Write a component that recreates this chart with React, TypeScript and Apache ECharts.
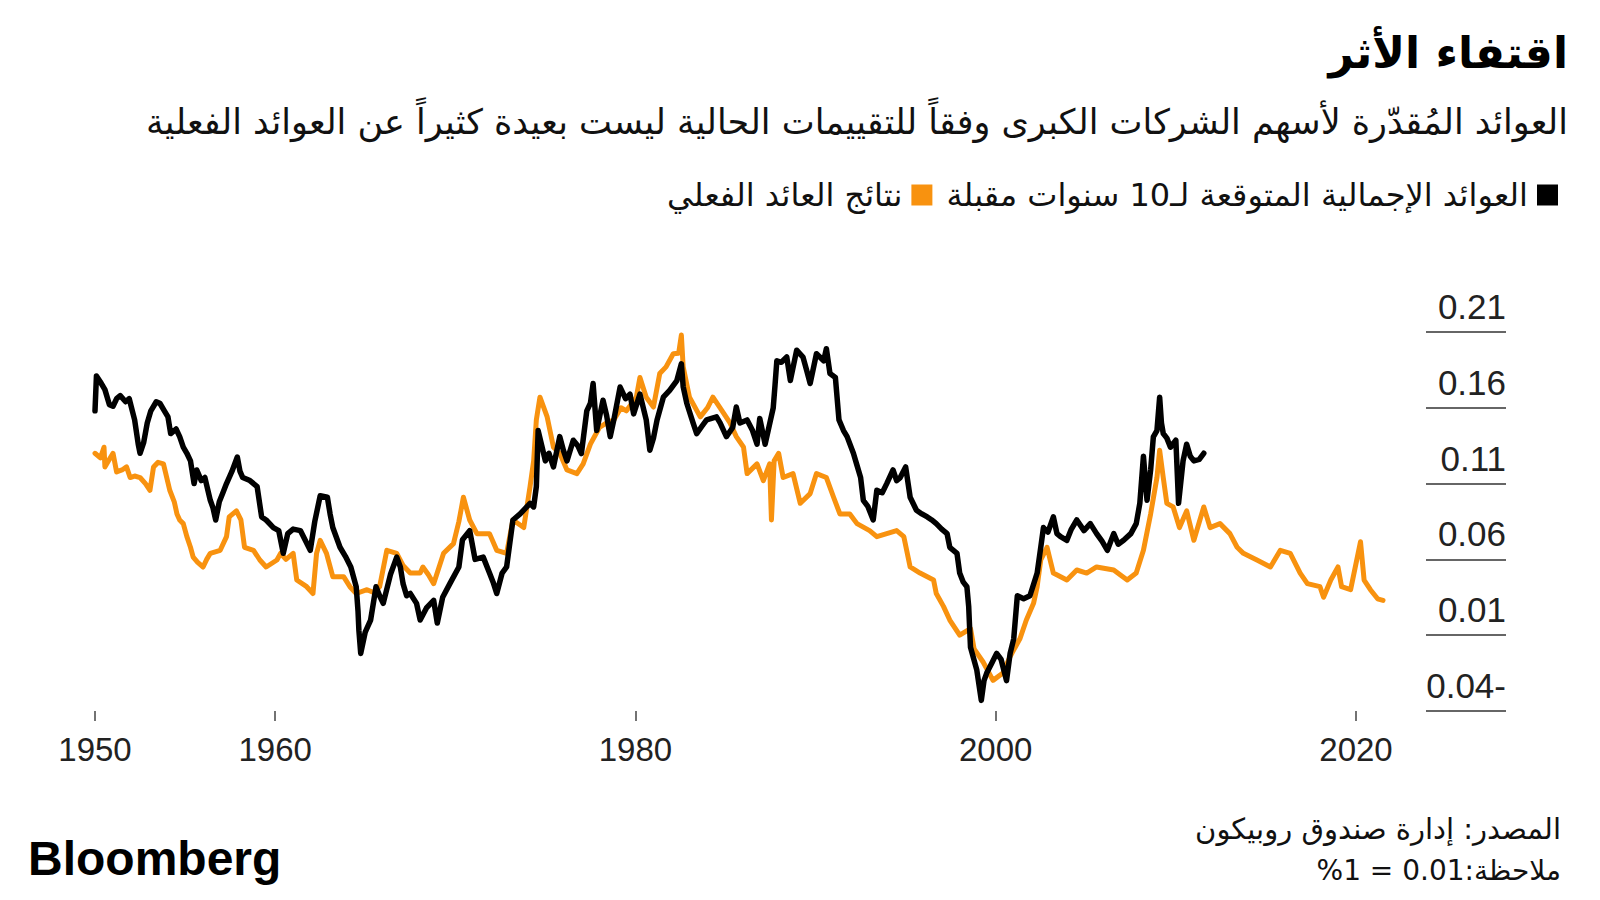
import React, { useEffect, useRef } from "react";
import * as echarts from "echarts";

// ---------- Data ----------
const expectedYears = [
  1950.0, 1950.08, 1950.3, 1950.55, 1950.8, 1951.0, 1951.2, 1951.4, 1951.7, 1951.9,
  1952.2, 1952.4, 1952.5, 1952.7, 1952.9, 1953.1, 1953.4, 1953.6, 1953.85, 1954.05,
  1954.2, 1954.5, 1954.7, 1954.9, 1955.1, 1955.3, 1955.5, 1955.65, 1955.9, 1956.1,
  1956.4, 1956.55, 1956.7, 1956.9, 1957.1, 1957.3, 1957.6, 1957.9, 1958.05, 1958.2,
  1958.6, 1959.0, 1959.25, 1959.5, 1959.9, 1960.2, 1960.45, 1960.7, 1961.0, 1961.4,
  1961.7, 1961.95, 1962.2, 1962.5, 1962.9, 1963.05, 1963.2, 1963.6, 1963.9, 1964.2,
  1964.5, 1964.6, 1964.65, 1964.75, 1965.0, 1965.3, 1965.6, 1965.8, 1966.0, 1966.4,
  1966.75, 1966.95, 1967.1, 1967.3, 1967.5, 1967.85, 1968.05, 1968.4, 1968.8, 1969.0,
  1969.3, 1969.7, 1970.2, 1970.4, 1970.8, 1971.1, 1971.55, 1971.9, 1972.1, 1972.3,
  1972.6, 1972.85, 1973.2, 1973.6, 1974.15, 1974.35, 1974.5, 1974.6, 1974.8, 1975.0,
  1975.2, 1975.45, 1975.8, 1976.0, 1976.2, 1976.55, 1976.8, 1977.0, 1977.3, 1977.5,
  1977.65, 1977.85, 1978.2, 1978.4, 1978.6, 1978.8, 1979.15, 1979.45, 1979.7, 1979.9,
  1980.25, 1980.6, 1980.8, 1981.0, 1981.2, 1981.55, 1981.9, 1982.3, 1982.55, 1982.65,
  1982.85, 1983.2, 1983.4, 1983.7, 1983.95, 1984.5, 1984.7, 1985.05, 1985.4, 1985.6,
  1985.8, 1986.2, 1986.5, 1986.75, 1986.9, 1987.2, 1987.5, 1987.65, 1987.75, 1987.85,
  1988.1, 1988.4, 1988.6, 1988.95, 1989.3, 1989.5, 1989.7, 1990.05, 1990.45, 1990.6,
  1990.8, 1991.1, 1991.3, 1991.55, 1991.75, 1992.1, 1992.3, 1992.5, 1992.65, 1992.9,
  1993.2, 1993.4, 1993.7, 1993.95, 1994.3, 1994.5, 1994.7, 1995.0, 1995.25, 1995.6,
  1995.9, 1996.2, 1996.45, 1996.7, 1997.0, 1997.3, 1997.45, 1997.85, 1998.0, 1998.2,
  1998.4, 1998.5, 1998.55, 1998.6, 1998.95, 1999.2, 1999.35, 1999.5, 1999.8, 2000.05,
  2000.3, 2000.6, 2000.8, 2001.0, 2001.2, 2001.55, 2001.9, 2002.3, 2002.5, 2002.65,
  2002.9, 2003.2, 2003.4, 2003.6, 2003.95, 2004.2, 2004.5, 2004.9, 2005.25, 2005.6,
  2005.9, 2006.2, 2006.55, 2006.8, 2007.1, 2007.5, 2007.8, 2008.0, 2008.2, 2008.4,
  2008.6, 2008.75, 2008.95, 2009.1, 2009.2, 2009.3, 2009.5, 2009.7, 2010.0, 2010.15,
  2010.4, 2010.6, 2010.8, 2011.0, 2011.3, 2011.55,
];
const expectedReturns = [
  0.158, 0.181, 0.177, 0.172, 0.162, 0.161, 0.166, 0.168, 0.164, 0.166,
  0.152, 0.136, 0.130, 0.137, 0.150, 0.158, 0.164, 0.163, 0.158, 0.154,
  0.143, 0.146, 0.141, 0.134, 0.130, 0.125, 0.110, 0.119, 0.112, 0.114,
  0.099, 0.094, 0.086, 0.098, 0.104, 0.110, 0.118, 0.1275, 0.118, 0.114,
  0.112, 0.108, 0.088, 0.086, 0.081, 0.079, 0.064, 0.077, 0.080, 0.079,
  0.072, 0.066, 0.085, 0.102, 0.101, 0.090, 0.081, 0.068, 0.062, 0.055,
  0.042, 0.026, 0.013, -0.002, 0.012, 0.020, 0.042, 0.036, 0.031, 0.050,
  0.0615, 0.055, 0.044, 0.036, 0.0375, 0.031, 0.020, 0.028, 0.033, 0.018,
  0.035, 0.044, 0.055, 0.073, 0.079, 0.060, 0.0615, 0.051, 0.045, 0.0375,
  0.051, 0.055, 0.086, 0.090, 0.097, 0.0946, 0.108, 0.145, 0.135, 0.125,
  0.130, 0.121, 0.141, 0.132, 0.125, 0.1386, 0.135, 0.1298, 0.158, 0.163,
  0.176, 0.145, 0.165, 0.155, 0.141, 0.152, 0.1737, 0.166, 0.169, 0.156,
  0.169, 0.152, 0.132, 0.140, 0.152, 0.167, 0.1715, 0.178, 0.189, 0.174,
  0.163, 0.150, 0.143, 0.148, 0.152, 0.154, 0.150, 0.141, 0.147, 0.1605,
  0.150, 0.152, 0.145, 0.136, 0.153, 0.136, 0.152, 0.160, 0.175, 0.191,
  0.190, 0.1935, 0.178, 0.198, 0.1935, 0.185, 0.176, 0.1957, 0.191, 0.199,
  0.1826, 0.180, 0.152, 0.145, 0.141, 0.130, 0.122, 0.114, 0.099, 0.095,
  0.086, 0.1056, 0.104, 0.110, 0.119, 0.112, 0.114, 0.121, 0.101, 0.0924,
  0.090, 0.088, 0.086, 0.0836, 0.080, 0.077, 0.068, 0.064, 0.051, 0.045,
  0.042, 0.029, 0.0154, 0.002, -0.013, -0.033, -0.020, -0.015, -0.008, -0.002,
  -0.006, -0.020, -0.002, 0.0076, 0.036, 0.034, 0.036, 0.051, 0.068, 0.081,
  0.078, 0.088, 0.077, 0.075, 0.0726, 0.080, 0.086, 0.079, 0.0836, 0.077,
  0.072, 0.066, 0.077, 0.070, 0.0726, 0.077, 0.0836, 0.097, 0.128, 0.099,
  0.119, 0.1408, 0.145, 0.167, 0.150, 0.143, 0.140, 0.134, 0.1386, 0.097,
  0.125, 0.136, 0.128, 0.125, 0.126, 0.130,
];

const actualYears = [
  1950.0, 1950.3, 1950.5, 1950.55, 1950.8, 1951.0, 1951.2, 1951.5, 1951.75, 1951.95,
  1952.2, 1952.5, 1952.8, 1953.05, 1953.25, 1953.5, 1953.8, 1954.15, 1954.4, 1954.55,
  1954.7, 1954.9, 1955.1, 1955.3, 1955.45, 1955.7, 1956.0, 1956.2, 1956.4, 1956.95,
  1957.3, 1957.45, 1957.85, 1958.1, 1958.3, 1958.8, 1959.15, 1959.5, 1960.1, 1960.3,
  1960.6, 1961.0, 1961.2, 1961.75, 1962.1, 1962.3, 1962.5, 1962.85, 1963.2, 1963.8,
  1964.15, 1964.5, 1965.1, 1965.5, 1965.8, 1966.2, 1966.75, 1967.1, 1967.5, 1968.05,
  1968.2, 1968.5, 1968.8, 1969.35, 1969.9, 1970.2, 1970.45, 1970.8, 1971.2, 1971.9,
  1972.3, 1972.85, 1973.2, 1973.8, 1974.15, 1974.35, 1974.5, 1974.7, 1975.1, 1975.45,
  1975.8, 1976.2, 1976.75, 1977.1, 1977.5, 1978.0, 1978.4, 1978.8, 1979.2, 1979.5,
  1980.05, 1980.25, 1980.6, 1981.0, 1981.35, 1981.7, 1982.1, 1982.4, 1982.55, 1982.65,
  1983.0, 1983.6, 1984.0, 1984.3, 1984.7, 1985.25, 1985.6, 1986.0, 1986.2, 1986.75,
  1987.1, 1987.45, 1987.55, 1987.7, 1987.95, 1988.2, 1988.75, 1989.15, 1989.7, 1990.05,
  1990.6, 1991.0, 1991.35, 1991.9, 1992.3, 1993.0, 1993.4, 1993.95, 1994.5, 1994.9,
  1995.25, 1995.8, 1996.55, 1996.7, 1997.1, 1997.45, 1998.0, 1998.6, 1998.8, 1999.3,
  1999.85, 2000.4, 2000.8, 2001.35, 2001.7, 2002.1, 2002.3, 2002.5, 2002.85, 2003.2,
  2003.95, 2004.5, 2005.05, 2005.6, 2006.55, 2007.3, 2007.8, 2008.2, 2008.6, 2008.95,
  2009.1, 2009.3, 2009.5, 2009.85, 2010.2, 2010.6, 2011.0, 2011.55, 2011.9, 2012.45,
  2013.0, 2013.4, 2013.75, 2014.5, 2015.25, 2015.8, 2016.35, 2016.9, 2017.3, 2018.0,
  2018.2, 2018.6, 2019.0, 2019.2, 2019.7, 2020.25, 2020.45, 2020.8, 2021.2, 2021.5,
];
const actualReturns = [
  0.130, 0.127, 0.134, 0.121, 0.126, 0.130, 0.1177, 0.119, 0.121, 0.114,
  0.115, 0.114, 0.110, 0.1056, 0.121, 0.124, 0.123, 0.1056, 0.098, 0.090,
  0.086, 0.0836, 0.075, 0.068, 0.0615, 0.058, 0.055, 0.060, 0.064, 0.066,
  0.075, 0.088, 0.092, 0.086, 0.068, 0.066, 0.0596, 0.055, 0.0596, 0.064,
  0.060, 0.064, 0.0464, 0.042, 0.0375, 0.064, 0.0726, 0.064, 0.0486, 0.0486,
  0.042, 0.0375, 0.040, 0.038, 0.042, 0.066, 0.064, 0.056, 0.051, 0.051,
  0.055, 0.050, 0.044, 0.064, 0.0704, 0.085, 0.101, 0.086, 0.077, 0.077,
  0.066, 0.064, 0.086, 0.081, 0.108, 0.125, 0.152, 0.167, 0.154, 0.134,
  0.130, 0.119, 0.1166, 0.123, 0.136, 0.147, 0.150, 0.152, 0.160, 0.158,
  0.167, 0.180, 0.167, 0.1605, 0.1826, 0.187, 0.1957, 0.196, 0.208, 0.187,
  0.167, 0.154, 0.160, 0.167, 0.160, 0.150, 0.141, 0.134, 0.1166, 0.123,
  0.112, 0.123, 0.086, 0.125, 0.130, 0.114, 0.1166, 0.097, 0.1034, 0.1166,
  0.114, 0.101, 0.090, 0.090, 0.0836, 0.079, 0.075, 0.077, 0.079, 0.075,
  0.055, 0.051, 0.0464, 0.0375, 0.029, 0.020, 0.010, 0.0144, 0.001, -0.0077,
  -0.0198, -0.015, -0.004, 0.0078, 0.020, 0.031, 0.042, 0.0596, 0.068, 0.051,
  0.0464, 0.053, 0.051, 0.055, 0.053, 0.0464, 0.051, 0.066, 0.090, 0.114,
  0.132, 0.114, 0.097, 0.0946, 0.081, 0.092, 0.0726, 0.0946, 0.081, 0.0836,
  0.077, 0.068, 0.064, 0.0596, 0.055, 0.066, 0.064, 0.051, 0.044, 0.042,
  0.035, 0.0464, 0.055, 0.042, 0.040, 0.0716, 0.0464, 0.040, 0.034, 0.033,
];

const xTickYears = [1950, 1960, 1980, 2000, 2020];
const yMin = -0.04;
const yMax = 0.21;
const yStep = 0.05;

// ---------- Texts ----------
const TITLE = "اقتفاء الأثر";
const SUBTITLE =
  "العوائد المُقدّرة لأسهم الشركات الكبرى وفقاً للتقييمات الحالية ليست بعيدة كثيراً عن العوائد الفعلية";
const EXPECTED_NAME = "العوائد الإجمالية المتوقعة لـ10 سنوات مقبلة";
const ACTUAL_NAME = "نتائج العائد الفعلي";
const SOURCE = "المصدر: إدارة صندوق روبيكون";
const NOTE = "\u202Bملاحظة:0.01 = 1%\u202C";
const BRAND = "Bloomberg";

const BLACK = "#000000";
const ORANGE = "#F8920F";
const AR_FONT = "'DejaVu Sans', 'Noto Sans', sans-serif";
const NUM_FONT = "'Liberation Sans', Arial, sans-serif";

const pairs = (xs: number[], ys: number[]) => xs.map((x, i) => [x, ys[i]]);

export default function App() {
  const ref = useRef<HTMLDivElement>(null);

  useEffect(() => {
    if (!ref.current) return;
    const chart = echarts.init(ref.current, null, { renderer: "svg" });

    const gridLeft = 95;
    const gridRightX = 1506;
    const pxPerYear = (1356 - 95) / 70;
    const xMax = 1950 + (gridRightX - gridLeft) / pxPerYear;

    chart.setOption({
      animation: false,
      backgroundColor: "#ffffff",
      grid: {
        left: gridLeft,
        right: 1600 - gridRightX,
        top: 332,
        bottom: 900 - 711,
        containLabel: false,
      },
      legend: {
        right: 37,
        top: 174,
        align: "right",
        icon: "rect",
        itemWidth: 21,
        itemHeight: 21,
        itemGap: 14,
        selectedMode: false,
        data: [ACTUAL_NAME, EXPECTED_NAME],
        textStyle: {
          fontFamily: AR_FONT,
          fontSize: 32,
          color: "#111",
          padding: [0, 4, 0, 0],
        },
      },
      xAxis: {
        type: "value",
        min: 1950,
        max: xMax,
        splitLine: { show: false },
        axisLine: { show: false, onZero: false },
        axisTick: {
          show: true,
          customValues: xTickYears,
          length: 10,
          lineStyle: { color: "#444", width: 1.5 },
        },
        axisLabel: {
          customValues: xTickYears,
          fontFamily: NUM_FONT,
          fontSize: 33,
          color: "#222",
          margin: 22,
          formatter: (v: number) => String(Math.round(v)),
        },
      },
      yAxis: {
        type: "value",
        position: "right",
        min: yMin,
        max: yMax,
        interval: yStep,
        splitLine: { show: false },
        axisLine: { show: false },
        axisTick: {
          show: true,
          inside: true,
          length: 80,
          lineStyle: { color: "#333", width: 1.5 },
        },
        axisLabel: {
          inside: true,
          margin: 0,
          align: "right",
          verticalAlign: "bottom",
          padding: [0, 0, 8, 0],
          fontFamily: NUM_FONT,
          fontSize: 35,
          color: "#222",
          formatter: (v: number) => {
            const r = Math.round(v * 100) / 100;
            return r < 0 ? `${Math.abs(r).toFixed(2)}-` : r.toFixed(2);
          },
        },
      },
      series: [
        {
          name: ACTUAL_NAME,
          type: "line",
          data: pairs(actualYears, actualReturns),
          showSymbol: false,
          symbol: "none",
          color: ORANGE,
          lineStyle: { color: ORANGE, width: 5, join: "round", cap: "round" },
          z: 2,
        },
        {
          name: EXPECTED_NAME,
          type: "line",
          data: pairs(expectedYears, expectedReturns),
          showSymbol: false,
          symbol: "none",
          color: BLACK,
          lineStyle: { color: BLACK, width: 5.5, join: "round", cap: "round" },
          z: 3,
        },
      ],
      graphic: [
        {
          type: "text",
          right: 32,
          top: 30,
          style: {
            text: TITLE,
            font: `bold 44px ${AR_FONT}`,
            fill: "#000",
            textAlign: "right",
          },
        },
        {
          type: "text",
          right: 32,
          top: 104,
          style: {
            text: SUBTITLE,
            font: `35px ${AR_FONT}`,
            fill: "#111",
            textAlign: "right",
          },
        },
        {
          type: "text",
          right: 39,
          top: 814,
          style: {
            text: SOURCE,
            font: `29px ${AR_FONT}`,
            fill: "#111",
            textAlign: "right",
          },
        },
        {
          type: "text",
          right: 39,
          top: 856,
          style: {
            text: NOTE,
            font: `28px ${AR_FONT}`,
            fill: "#111",
            textAlign: "right",
          },
        },
        {
          type: "text",
          left: 28,
          top: 834,
          style: {
            text: BRAND,
            font: `bold 48px ${NUM_FONT}`,
            fill: "#000",
          },
        },
      ],
    });

    return () => chart.dispose();
  }, []);

  return (
    <div
      ref={ref}
      style={{ position: "fixed", left: 0, top: 0, width: 1600, height: 900, background: "#fff" }}
    />
  );
}
